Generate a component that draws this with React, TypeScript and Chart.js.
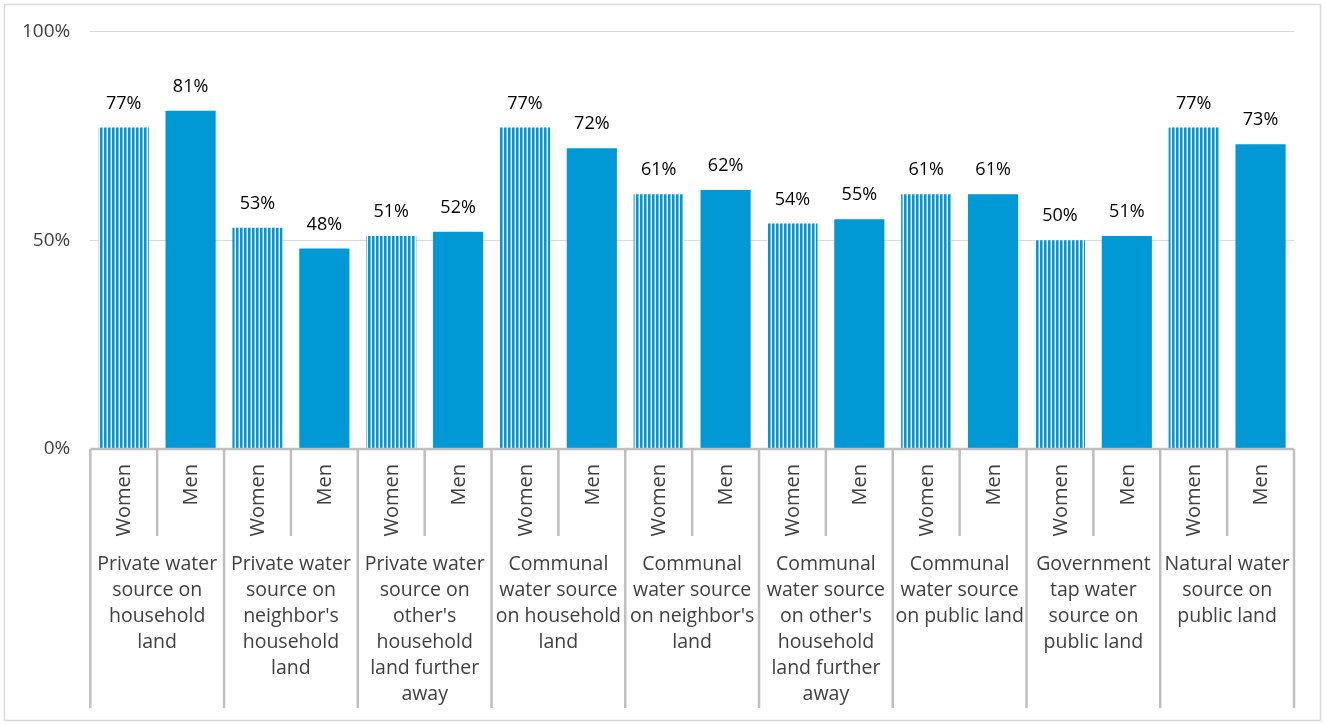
import React, { useEffect, useRef } from "react";
import { Chart, registerables } from "chart.js";

Chart.register(...registerables);

const groups: string[][] = [
  ["Private water", "source on", "household", "land"],
  ["Private water", "source on", "neighbor's", "household", "land"],
  ["Private water", "source on", "other's", "household", "land further", "away"],
  ["Communal", "water source", "on household", "land"],
  ["Communal", "water source", "on neighbor's", "land"],
  ["Communal", "water source", "on other's", "household", "land further", "away"],
  ["Communal", "water source", "on public land"],
  ["Government", "tap water", "source on", "public land"],
  ["Natural water", "source on", "public land"],
];
const sexes = ["Women", "Men"];
const women = [77, 53, 51, 77, 61, 54, 61, 50, 77];
const men = [81, 48, 52, 72, 62, 55, 61, 51, 73];
const yTicks = [0, 50, 100];

const FONT = "'Open Sans', 'Noto Sans', sans-serif";
const BLUE = "#0099D6";
const TEXT = "#404040";
const AXIS = "#BFBFBF";

export default function App() {
  const canvasEl = useRef<HTMLCanvasElement>(null);

  useEffect(() => {
    document.body.style.margin = "0";
    if (!canvasEl.current) return;
    const ctx = canvasEl.current.getContext("2d");
    if (!ctx) return;

    // striped fill for the Women bars
    const pc = document.createElement("canvas");
    pc.width = 4;
    pc.height = 4;
    const pctx = pc.getContext("2d")!;
    pctx.fillStyle = "#ffffff";
    pctx.fillRect(0, 0, 4, 4);
    pctx.fillStyle = BLUE;
    pctx.fillRect(0, 0, 2.6, 4);
    const stripes = ctx.createPattern(pc, "repeat")!;

    const labels: string[] = [];
    const values: number[] = [];
    groups.forEach((g, i) => {
      labels.push(sexes[0]);
      values.push(women[i]);
      labels.push(sexes[1]);
      values.push(men[i]);
    });

    const axisPlugin = {
      id: "groupAxis",
      afterDatasetsDraw(chart: any) {
        const c = chart.ctx;
        const meta = chart.getDatasetMeta(0);
        c.save();
        c.font = `18px ${FONT}`;
        c.fillStyle = "#000000";
        c.textAlign = "center";
        c.textBaseline = "middle";
        meta.data.forEach((bar: any, i: number) => {
          c.fillText(Math.round(values[i]) + "%", bar.x, bar.y - 24);
        });
        c.restore();
      },
      afterDraw(chart: any) {
        const c = chart.ctx;
        const area = chart.chartArea;
        const x = chart.scales.x;
        const n = labels.length;
        const slot = (area.right - area.left) / n;
        const bottom = area.bottom;
        c.save();
        // outer frame
        c.strokeStyle = "#D9D9D9";
        c.lineWidth = 1.5;
        c.strokeRect(4.5, 4.5, chart.width - 9, chart.height - 9);
        // baseline
        c.strokeStyle = AXIS;
        c.lineWidth = 2.5;
        c.beginPath();
        c.moveTo(area.left, bottom);
        c.lineTo(area.right, bottom);
        c.stroke();
        // separators
        for (let i = 0; i <= n; i++) {
          const px = i < n ? x.getPixelForValue(i) - slot / 2 : x.getPixelForValue(n - 1) + slot / 2;
          const len = i % 2 === 0 ? 259 : 87;
          c.beginPath();
          c.moveTo(px, bottom);
          c.lineTo(px, bottom + len);
          c.stroke();
        }
        // rotated sex labels
        c.fillStyle = TEXT;
        c.font = `20px ${FONT}`;
        for (let i = 0; i < n; i++) {
          c.save();
          c.translate(x.getPixelForValue(i) + 1, bottom + 15);
          c.rotate(-Math.PI / 2);
          c.textAlign = "right";
          c.textBaseline = "middle";
          c.fillText(labels[i], 0, 0);
          c.restore();
        }
        // group labels
        c.font = `19.5px ${FONT}`;
        c.textAlign = "center";
        c.textBaseline = "middle";
        groups.forEach((g, k) => {
          const cx = (x.getPixelForValue(2 * k) + x.getPixelForValue(2 * k + 1)) / 2;
          g.forEach((line, j) => {
            c.fillText(line, cx, bottom + 115 + j * 26);
          });
        });
        c.restore();
      },
    };

    const chart = new Chart(ctx, {
      type: "bar",
      data: {
        labels,
        datasets: [
          {
            data: values,
            backgroundColor: values.map((_, i) => (i % 2 === 0 ? stripes : BLUE)) as any,
            barPercentage: 0.75,
            categoryPercentage: 1,
          },
        ],
      },
      options: {
        animation: false,
        responsive: false,
        devicePixelRatio: 1,
        layout: { padding: { left: 2, right: 31, top: 29, bottom: 276 } },
        plugins: { legend: { display: false }, tooltip: { enabled: false } },
        scales: {
          x: { display: false },
          y: {
            min: 0,
            max: 100,
            afterBuildTicks: (scale: any) => {
              scale.ticks = yTicks.map((v) => ({ value: v }));
            },
            ticks: {
              callback: (v: any) => v + "%",
              font: { size: 19, family: FONT },
              color: TEXT,
              padding: 20,
            },
            grid: { color: "#D9D9D9", drawTicks: false },
            border: { display: false },
          },
        },
      },
      plugins: [axisPlugin],
    });

    return () => {
      chart.destroy();
    };
  }, []);

  return (
    <div style={{ width: 1325, height: 725, background: "#fff" }}>
      <canvas ref={canvasEl} width={1325} height={725} />
    </div>
  );
}
